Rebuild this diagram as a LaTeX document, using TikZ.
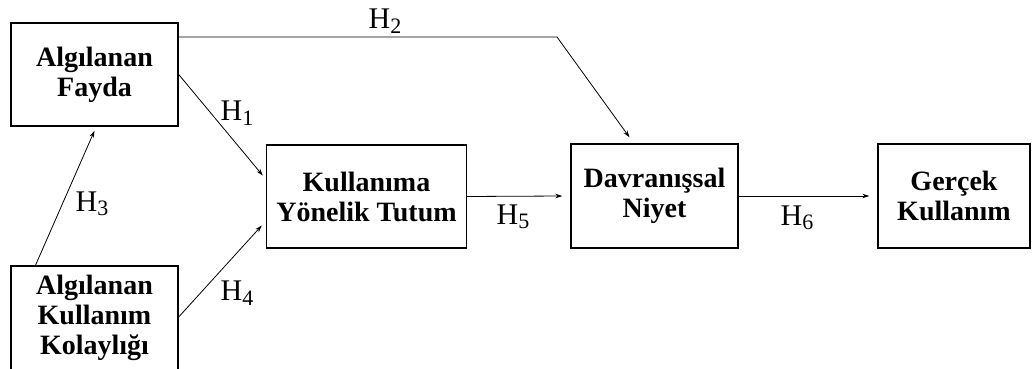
\documentclass[tikz,border=0pt]{standalone}
\usepackage{fontspec}
\setmainfont{Liberation Serif}
\usetikzlibrary{arrows.meta}
\newcommand{\hyp}[1]{H\raisebox{-0.32ex}{\fontsize{22}{22}\selectfont #1}}
\begin{document}
\begin{tikzpicture}[x=1pt,y=-1pt,
  box/.style={draw, line width=1.4pt, inner sep=0pt, align=center,
    font=\fontsize{28}{30}\selectfont\bfseries},
  link/.style={line width=0.8pt, -{Stealth[length=7pt,width=4.5pt]}},
  hlabel/.style={font=\fontsize{30}{30}\selectfont, inner sep=0pt}]
\useasboundingbox (0,0) rectangle (1036,369);
\clip (0,0) rectangle (1036,369);
\fill[white] (0,0) rectangle (1036,369);

% constructs
\node[box, minimum width=167pt, minimum height=103pt] (af) at (94.5,74.5) {Algılanan\\Fayda};
\node[box, minimum width=167pt, minimum height=104pt] (akk) at (94.5,318) {Algılanan\\Kullanım\\Kolaylığı};
\node[box, minimum width=200pt, minimum height=103pt] (kyt) at (366.5,196.5) {Kullanıma\\Yönelik Tutum};
\node[box, minimum width=167pt, minimum height=104pt] (dn) at (654.5,196) {Davranışsal\\Niyet};
\node[box, minimum width=152pt, minimum height=104pt] (gk) at (954,196) {Gerçek\\Kullanım};

% hypothesised paths
\coordinate (bend) at (557,37);
\draw[link] (af.east |- bend) -- (bend) -- ([xshift=-25pt,yshift=6pt]dn.north);
\draw[link] (af.east) -- ([xshift=-3pt,yshift=21pt]kyt.west);
\draw[link] ([xshift=-59pt]akk.north) -- ([yshift=-4pt]af.south);
\draw[link] ([yshift=1pt]akk.east) -- ([xshift=-4pt,yshift=-29pt]kyt.west);
\draw[link] (kyt.east) -- ([xshift=-8pt]dn.west);
\draw[link] (dn.east) -- ([xshift=-8pt]gk.west);

% labels
\node[hlabel] (h2) at (385,21) {\hyp{2}};
\node[hlabel] (h1) at (237,113) {\hyp{1}};
\node[hlabel] (h3) at (92,204) {\hyp{3}};
\node[hlabel] (h4) at (237,293) {\hyp{4}};
\node[hlabel] (h5) at (513,217) {\hyp{5}};
\node[hlabel] (h6) at (797,218) {\hyp{6}};
\end{tikzpicture}
\end{document}
